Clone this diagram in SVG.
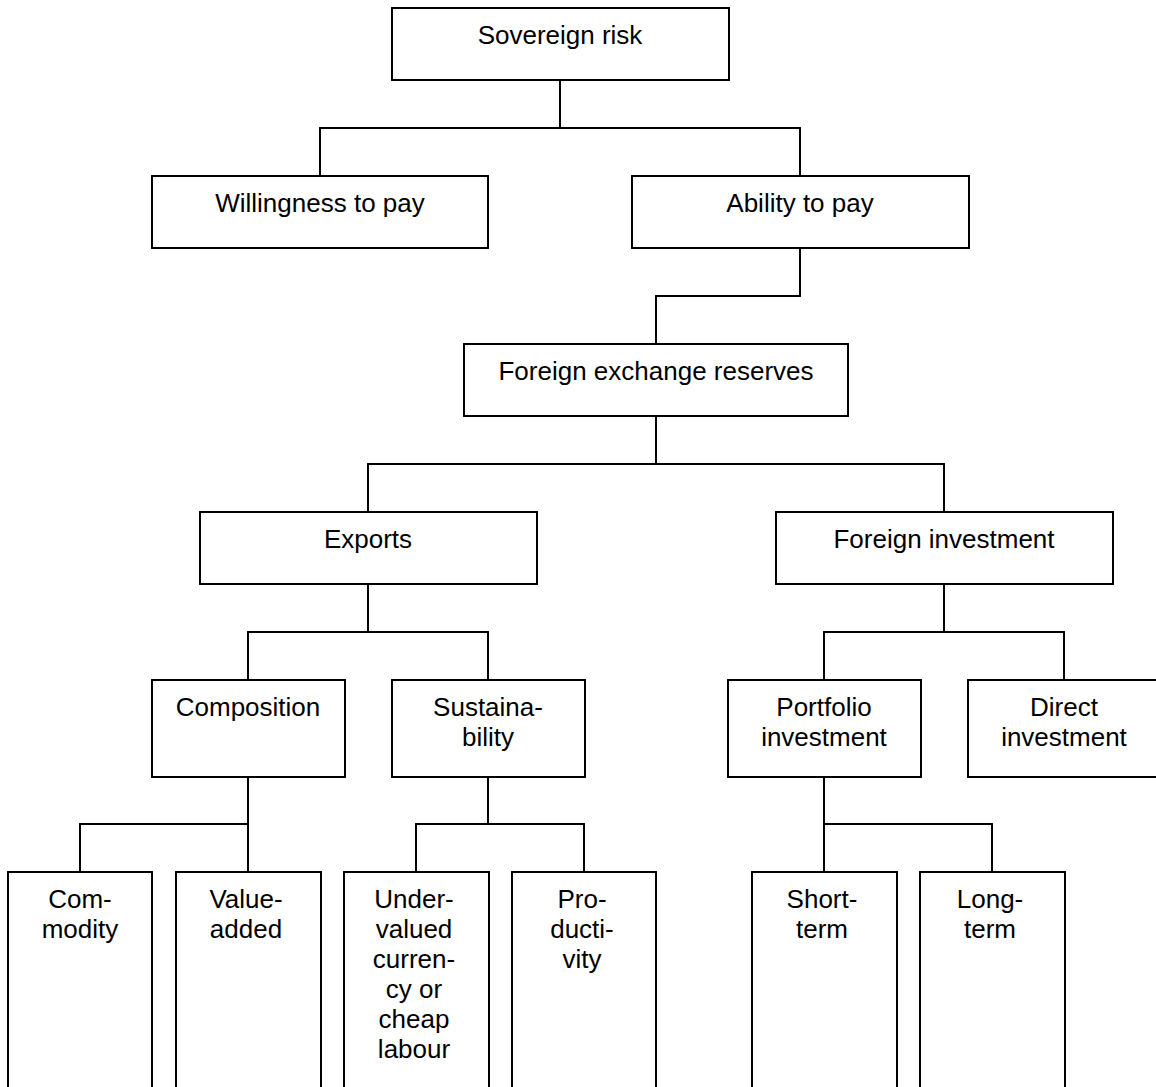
<svg xmlns="http://www.w3.org/2000/svg" width="1156" height="1087" viewBox="0 0 1156 1087">
<style>
rect{fill:#fff;stroke:#000;stroke-width:2}
.c path{fill:none;stroke:#000;stroke-width:2}
text{font-family:"Liberation Sans",Arial,sans-serif;font-size:26px;fill:#000;text-anchor:middle}
</style>
<rect x="0" y="0" width="1156" height="1087" style="stroke:none"/>
<g class="c" id="connectors">
<path d="M560 80V128M320 176V128H800V176"/>
<path d="M800 248V296H656V344"/>
<path d="M656 416V464M368 512V464H944V512"/>
<path d="M368 584V632M248 680V632H488V680"/>
<path d="M944 584V632M824 680V632H1064V680"/>
<path d="M248 777V824M80 872V824H248V872"/>
<path d="M488 777V824M416 872V824H584V872"/>
<path d="M824 777V872M824 824H992V872"/>
</g>
<g id="sovereign"><rect x="392" y="8" width="337" height="72"/><text x="560" y="44">Sovereign risk</text></g>
<g id="willingness"><rect x="152" y="176" width="336" height="72"/><text x="320" y="212">Willingness to pay</text></g>
<g id="ability"><rect x="632" y="176" width="337" height="72"/><text x="800" y="212">Ability to pay</text></g>
<g id="fxreserves"><rect x="464" y="344" width="384" height="72"/><text x="656" y="380">Foreign exchange reserves</text></g>
<g id="exports"><rect x="200" y="512" width="337" height="72"/><text x="368" y="548">Exports</text></g>
<g id="foreigninv"><rect x="776" y="512" width="337" height="72"/><text x="944" y="548">Foreign investment</text></g>
<g id="composition"><rect x="152" y="680" width="193" height="97"/><text x="248" y="716">Composition</text></g>
<g id="sustainability"><rect x="392" y="680" width="193" height="97"/><text x="488" y="716">Sustaina-</text><text x="488" y="746">bility</text></g>
<g id="portfolio"><rect x="728" y="680" width="193" height="97"/><text x="824" y="716">Portfolio</text><text x="824" y="746">investment</text></g>
<g id="direct"><rect x="968" y="680" width="200" height="97"/><text x="1064" y="716">Direct</text><text x="1064" y="746">investment</text></g>
<g id="commodity"><rect x="8" y="872" width="144" height="240"/><text x="80" y="908">Com-</text><text x="80" y="938">modity</text></g>
<g id="valueadded"><rect x="176" y="872" width="145" height="240"/><text x="246" y="908">Value-</text><text x="246" y="938">added</text></g>
<g id="undervalued"><rect x="344" y="872" width="145" height="240"/><text x="414" y="908">Under-</text><text x="414" y="938">valued</text><text x="414" y="968">curren-</text><text x="414" y="998">cy or</text><text x="414" y="1028">cheap</text><text x="414" y="1058">labour</text></g>
<g id="productivity"><rect x="512" y="872" width="144" height="240"/><text x="582" y="908">Pro-</text><text x="582" y="938">ducti-</text><text x="582" y="968">vity</text></g>
<g id="shortterm"><rect x="752" y="872" width="145" height="240"/><text x="822" y="908">Short-</text><text x="822" y="938">term</text></g>
<g id="longterm"><rect x="920" y="872" width="145" height="240"/><text x="990" y="908">Long-</text><text x="990" y="938">term</text></g>
</svg>
